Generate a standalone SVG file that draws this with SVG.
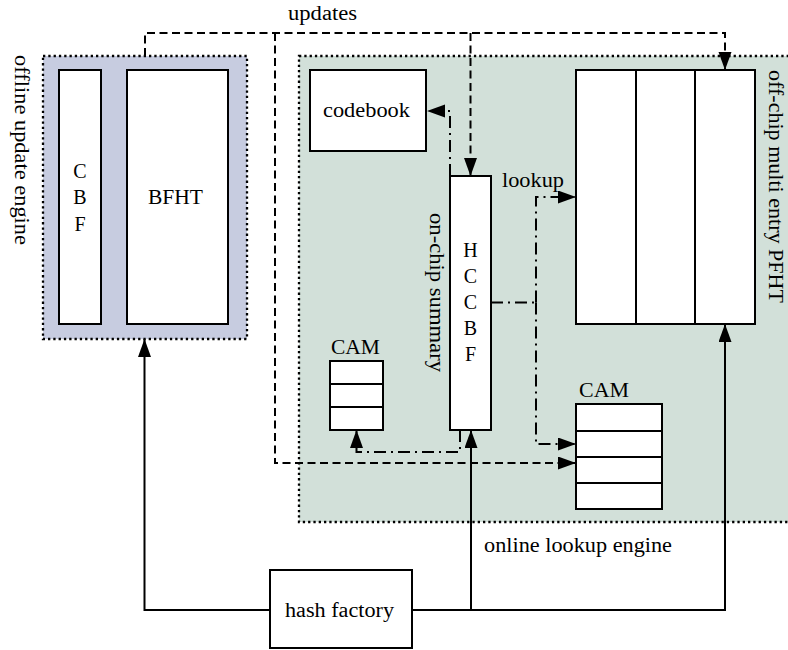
<svg xmlns="http://www.w3.org/2000/svg" width="788" height="650" viewBox="0 0 788 650">
<style>
  text { font-family: "Liberation Serif", "Times New Roman", serif; font-size: 20px; fill: #000; }
  .box { fill: #fff; stroke: #000; stroke-width: 2; }
  .div { fill: none; stroke: #000; stroke-width: 2; }
  .region { stroke: #000; stroke-width: 2.3; stroke-dasharray: 2.3 3; }
  .solid { fill: none; stroke: #000; stroke-width: 2; }
  .dashed { fill: none; stroke: #000; stroke-width: 2; stroke-dasharray: 8 4.5; }
  .dashdot { fill: none; stroke: #000; stroke-width: 2; stroke-dasharray: 12 5 2 5; }
</style>
<defs>
  <marker id="arr" markerUnits="userSpaceOnUse" markerWidth="20" markerHeight="14" refX="18" refY="6.5" orient="auto">
    <path d="M0,0 L18,6.5 L0,13 Z" fill="#000"/>
  </marker>
</defs>
<rect width="788" height="650" fill="#fff"/>

<g id="offline-engine">
  <rect class="region" x="43" y="56" width="204" height="283" fill="#c7cce0"/>
  <text transform="translate(15,55) rotate(90)" textLength="190" lengthAdjust="spacingAndGlyphs">offline update engine</text>
</g>
<g id="online-engine">
  <rect class="region" x="299" y="56" width="520" height="466" fill="#d2e0d9"/>
  <text x="484" y="552" textLength="188" lengthAdjust="spacingAndGlyphs">online lookup engine</text>
</g>

<g id="cbf">
  <rect class="box" x="59" y="70" width="42" height="254"/>
  <text x="80" y="178" text-anchor="middle">C</text>
  <text x="80" y="204" text-anchor="middle">B</text>
  <text x="80" y="231" text-anchor="middle">F</text>
</g>
<g id="bfht">
  <rect class="box" x="127" y="70" width="101" height="254"/>
  <text x="148" y="204" textLength="55" lengthAdjust="spacingAndGlyphs">BFHT</text>
</g>
<g id="codebook">
  <rect class="box" x="310" y="70" width="116" height="81"/>
  <text x="323" y="117" textLength="87" lengthAdjust="spacingAndGlyphs">codebook</text>
</g>
<g id="hccbf">
  <rect class="box" x="450" y="176" width="41" height="254"/>
  <text x="470.5" y="257" text-anchor="middle">H</text>
  <text x="470.5" y="283" text-anchor="middle">C</text>
  <text x="470.5" y="309" text-anchor="middle">C</text>
  <text x="470.5" y="335" text-anchor="middle">B</text>
  <text x="470.5" y="361" text-anchor="middle">F</text>
  <text transform="translate(430,213) rotate(90)" textLength="159" lengthAdjust="spacingAndGlyphs">on-chip summary</text>
</g>
<g id="pfht">
  <rect class="box" x="576" y="70" width="179" height="254"/>
  <line class="div" x1="636" y1="70" x2="636" y2="324"/>
  <line class="div" x1="695" y1="70" x2="695" y2="324"/>
  <text transform="translate(769,70) rotate(90)" textLength="233" lengthAdjust="spacingAndGlyphs">off-chip multi entry PFHT</text>
</g>
<g id="cam-small">
  <text x="331" y="354" textLength="49" lengthAdjust="spacingAndGlyphs">CAM</text>
  <rect class="box" x="330" y="361" width="53" height="69"/>
  <line class="div" x1="330" y1="384" x2="383" y2="384"/>
  <line class="div" x1="330" y1="407" x2="383" y2="407"/>
</g>
<g id="cam-large">
  <text x="579" y="397" textLength="50" lengthAdjust="spacingAndGlyphs">CAM</text>
  <rect class="box" x="576" y="404" width="86" height="105"/>
  <line class="div" x1="576" y1="431" x2="662" y2="431"/>
  <line class="div" x1="576" y1="457" x2="662" y2="457"/>
  <line class="div" x1="576" y1="483" x2="662" y2="483"/>
</g>
<g id="hash-factory">
  <rect class="box" x="270" y="570" width="142" height="78"/>
  <text x="285" y="617" textLength="109" lengthAdjust="spacingAndGlyphs">hash factory</text>
</g>

<g id="connectors">
  <!-- updates (dashed) -->
  <path class="dashed" d="M145,56 V33 H725 V70" marker-end="url(#arr)"/>
  <path class="dashed" d="M275,33 V463 H576" marker-end="url(#arr)"/>
  <path class="dashed" d="M470.5,33 V176" marker-end="url(#arr)"/>
  <text x="288" y="20" textLength="69" lengthAdjust="spacingAndGlyphs">updates</text>
  <!-- lookup (dash-dot) -->
  <path class="dashdot" d="M450,176 V111 H427" marker-end="url(#arr)"/>
  <path class="dashdot" d="M491,302.5 H536"/>
  <path class="dashdot" d="M536,302.5 V197 H576" marker-end="url(#arr)"/>
  <path class="dashdot" d="M536,302.5 V444 H576" marker-end="url(#arr)"/>
  <path class="dashdot" d="M460,430 V452 H356.5 V430" marker-end="url(#arr)"/>
  <text x="502" y="187" textLength="62" lengthAdjust="spacingAndGlyphs">lookup</text>
  <!-- hash factory (solid) -->
  <path class="solid" d="M270,610 H144.5 V339" marker-end="url(#arr)"/>
  <path class="solid" d="M412,610 H725 V324" marker-end="url(#arr)"/>
  <path class="solid" d="M471,610 V430" marker-end="url(#arr)"/>
</g>
</svg>
